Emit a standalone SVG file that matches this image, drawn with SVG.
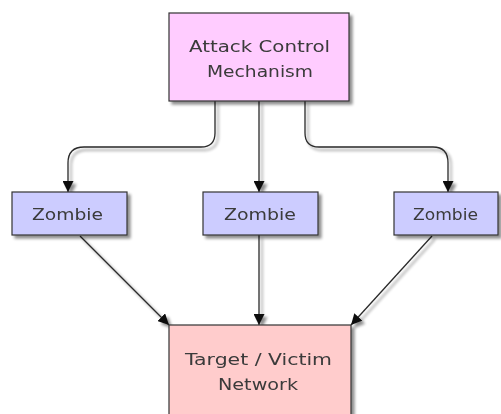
<svg xmlns="http://www.w3.org/2000/svg" width="501" height="414" viewBox="0 0 501 414">
<style>
.box{stroke:#333;stroke-width:1.2}
.lbl{font-family:"DejaVu Sans",Verdana,sans-serif;font-size:16px;fill:#3a3a3a;text-anchor:middle}
.zl{font-family:"DejaVu Sans",Verdana,sans-serif;font-size:15px;fill:#3a3a3a;text-anchor:middle}
.edge{fill:none;stroke:#2a2a2a;stroke-width:1.3;marker-end:url(#arr)}
</style>
<defs>
<filter id="sh" x="-20%" y="-20%" width="140%" height="140%">
<feGaussianBlur in="SourceAlpha" stdDeviation="1.5"/>
<feOffset dx="3" dy="3" result="o"/>
<feComponentTransfer><feFuncA type="linear" slope="0.45"/></feComponentTransfer>
<feMerge><feMergeNode/><feMergeNode in="SourceGraphic"/></feMerge>
</filter>
<marker id="arr" viewBox="0 0 10 10" refX="10" refY="5" markerWidth="11" markerHeight="11" markerUnits="userSpaceOnUse" orient="auto">
<path d="M0,0 L10,5 L0,10 z" fill="#111"/>
</marker>
</defs>
<rect width="501" height="414" fill="#fff"/>
<g id="connectors" filter="url(#sh)">
<path class="edge" d="M215,101 V133 Q215,147 201,147 H84 Q68,147 68,163 V192"/>
<path class="edge" d="M259,101 V192"/>
<path class="edge" d="M305,101 V133 Q305,147 319,147 H433 Q448,147 448,163 V192"/>
<path class="edge" d="M80,236 L169,325"/>
<path class="edge" d="M259,235 V325"/>
<path class="edge" d="M432,236 L351,325"/>
</g>
<g id="control" filter="url(#sh)">
<rect class="box" x="169" y="13" width="180" height="88" fill="#ffccff"/>
<text class="lbl" x="259.5" y="52" textLength="141" lengthAdjust="spacingAndGlyphs">Attack Control</text>
<text class="lbl" x="260" y="77" textLength="106" lengthAdjust="spacingAndGlyphs">Mechanism</text>
</g>
<g id="zombie1" filter="url(#sh)">
<rect class="box" x="12" y="192" width="115" height="43" fill="#ccccff"/>
<text class="zl" x="67.5" y="220" textLength="71" lengthAdjust="spacingAndGlyphs">Zombie</text>
</g>
<g id="zombie2" filter="url(#sh)">
<rect class="box" x="203" y="192" width="115" height="43" fill="#ccccff"/>
<text class="zl" x="260" y="220" textLength="72" lengthAdjust="spacingAndGlyphs">Zombie</text>
</g>
<g id="zombie3" filter="url(#sh)">
<rect class="box" x="394" y="192" width="104" height="43" fill="#ccccff"/>
<text class="zl" x="445.5" y="220" textLength="65" lengthAdjust="spacingAndGlyphs">Zombie</text>
</g>
<g id="target" filter="url(#sh)">
<rect class="box" x="169" y="325" width="182" height="100" fill="#ffcccc"/>
<text class="lbl" x="258.5" y="365" textLength="147" lengthAdjust="spacingAndGlyphs">Target / Victim</text>
<text class="lbl" x="258" y="390" textLength="80" lengthAdjust="spacingAndGlyphs">Network</text>
</g>
</svg>
